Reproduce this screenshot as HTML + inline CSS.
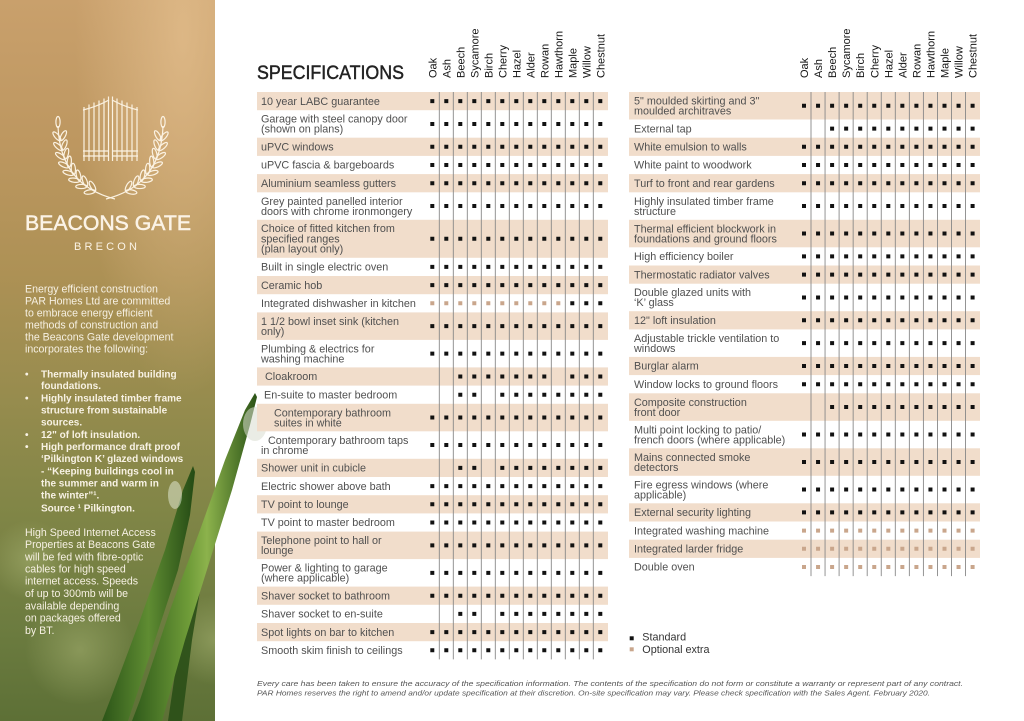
<!DOCTYPE html>
<html><head><meta charset="utf-8"><style>
html,body{margin:0;padding:0;background:#fff;}
svg{display:block;}
text{font-family:"Liberation Sans",Arial,sans-serif;}
.l{font-size:10.8px;fill:#505050;}
.h{font-size:11px;fill:#151515;}
.p{font-size:10.6px;fill:#f6f0e2;}
.b{font-size:10px;fill:#f8f2e4;font-weight:bold;}
</style></head><body>
<svg width="1024" height="721" viewBox="0 0 1024 721" xmlns="http://www.w3.org/2000/svg">
<defs>
<linearGradient id="bg" x1="0" y1="0" x2="0" y2="1">
<stop offset="0" stop-color="#c9a06c"/>
<stop offset="0.2" stop-color="#bd9760"/>
<stop offset="0.38" stop-color="#ad9155"/>
<stop offset="0.55" stop-color="#978c4e"/>
<stop offset="0.72" stop-color="#7f8546"/>
<stop offset="0.88" stop-color="#6b7b3f"/>
<stop offset="1" stop-color="#5d7036"/>
</linearGradient>
<radialGradient id="hl" cx="0.85" cy="0.05" r="0.5">
<stop offset="0" stop-color="#e2bd8c" stop-opacity="0.8"/>
<stop offset="1" stop-color="#e2bd8c" stop-opacity="0"/>
</radialGradient>
<radialGradient id="bk" cx="0.5" cy="0.5" r="0.5">
<stop offset="0" stop-color="#aab575" stop-opacity="0.5"/>
<stop offset="1" stop-color="#aab575" stop-opacity="0"/>
</radialGradient>
<linearGradient id="gA" x1="0" y1="0" x2="1" y2="0">
<stop offset="0" stop-color="#2f5a1a"/>
<stop offset="0.45" stop-color="#6e9b38"/>
<stop offset="0.6" stop-color="#8cb24c"/>
<stop offset="1" stop-color="#2a5216"/>
</linearGradient>
<linearGradient id="gB" x1="0" y1="0" x2="1" y2="0">
<stop offset="0" stop-color="#2c5518"/>
<stop offset="0.5" stop-color="#5f8c32"/>
<stop offset="1" stop-color="#244a14"/>
</linearGradient>
<clipPath id="panel"><rect x="0" y="0" width="215" height="721"/></clipPath>
<g id="lv">
<ellipse cx="-4.6" cy="-3.2" rx="5.6" ry="2.1" transform="rotate(35 -4.6 -3.2)" />
<ellipse cx="-4.6" cy="3.2" rx="5.6" ry="2.1" transform="rotate(-35 -4.6 3.2)" />
</g>
</defs>

<!-- left panel -->
<rect x="0" y="0" width="215" height="721" fill="url(#bg)"/>
<rect x="0" y="0" width="215" height="721" fill="url(#hl)"/>
<g clip-path="url(#panel)">
<circle cx="80" cy="650" r="55" fill="url(#bk)"/>
<circle cx="215" cy="640" r="45" fill="url(#bk)"/>
<circle cx="30" cy="560" r="40" fill="url(#bk)"/>
<path d="M193,466 L195,472 L190,515 L178,570 L155,640 L128,721 L102,721 L112,695 L140,620 L165,550 L183,490 Z" fill="url(#gB)"/>
<path d="M215,500 L205,560 L192,640 L182,721 L168,721 L180,640 L196,560 Z" fill="#2a4f17" opacity="0.9"/>
<ellipse cx="175" cy="495" rx="7" ry="14" fill="#e8efdc" opacity="0.5"/>
</g>
<path d="M255,393 L257,397 L250,425 L232,490 L210,560 L185,640 L162,721 L132,721 L140,700 L170,610 L200,530 L225,460 L245,410 Z" fill="url(#gA)"/>
<ellipse cx="255" cy="424" rx="12" ry="17" fill="#d9ddcf" opacity="0.55"/>

<!-- logo -->
<g stroke="#fbf2e2" stroke-width="1.2" fill="none">
<path d="M84,107V161M89,104.5V161M94,102.5V161M99,100.5V161M104,98.5V161M108.5,96.5V161"/>
<path d="M137,107V161M132,104.5V161M127,102.5V161M122,100.5V161M117,98.5V161M112.5,96.5V161"/>
<path d="M83,110 Q96,107 109,100 M83,151H109 M83,156H109"/>
<path d="M138,110 Q125,107 112,100 M138,151H112 M138,156H112"/>
<g id="branch">
<path d="M58,126 Q60,185 115,199"/>
<ellipse cx="58" cy="122" rx="2.1" ry="5.5"/>
<use href="#lv" transform="translate(60.55,140.6) rotate(84)"/>
<use href="#lv" transform="translate(62.2,150.3) rotate(77)"/>
<use href="#lv" transform="translate(64.95,159.2) rotate(69)"/>
<use href="#lv" transform="translate(68.8,167.3) rotate(60)"/>
<use href="#lv" transform="translate(73.75,174.5) rotate(51)"/>
<use href="#lv" transform="translate(79.8,180.9) rotate(42)"/>
<use href="#lv" transform="translate(86.95,186.4) rotate(34)"/>
<use href="#lv" transform="translate(95.2,191.1) rotate(26)"/>
</g>
<use href="#branch" transform="translate(221,0) scale(-1,1)"/>
</g>
<text x="25" y="230" font-size="21" fill="#fbf3e6" stroke="#fbf3e6" stroke-width="0.5" textLength="166" lengthAdjust="spacingAndGlyphs">BEACONS GATE</text>
<text x="74" y="250" font-size="11" fill="#fbf3e6" textLength="63" lengthAdjust="spacing">BRECON</text>

<text class="p" x="25" y="292.5">Energy efficient construction</text>
<text class="p" x="25" y="304.5">PAR Homes Ltd are committed</text>
<text class="p" x="25" y="316.5">to embrace energy efficient</text>
<text class="p" x="25" y="328.5">methods of construction and</text>
<text class="p" x="25" y="340.5">the Beacons Gate development</text>
<text class="p" x="25" y="352.5">incorporates the following:</text>
<text class="b" x="25" y="377.6">•</text><text class="b" x="41" y="377.6">Thermally insulated building</text>
<text class="b" x="41" y="389">foundations.</text>
<text class="b" x="25" y="401.3">•</text><text class="b" x="41" y="401.3">Highly insulated timber frame</text>
<text class="b" x="41" y="413.3">structure from sustainable</text>
<text class="b" x="41" y="425.6">sources.</text>
<text class="b" x="25" y="438">•</text><text class="b" x="41" y="438">12" of loft insulation.</text>
<text class="b" x="25" y="450">•</text><text class="b" x="41" y="450">High performance draft proof</text>
<text class="b" x="41" y="462">‘Pilkington K’ glazed windows</text>
<text class="b" x="41" y="474.3">- “Keeping buildings cool in</text>
<text class="b" x="41" y="486.6">the summer and warm in</text>
<text class="b" x="41" y="498.6">the winter”¹.</text>
<text class="b" x="41" y="511.3">Source ¹ Pilkington.</text>
<text class="p" x="25" y="535.8">High Speed Internet Access</text>
<text class="p" x="25" y="548.2">Properties at Beacons Gate</text>
<text class="p" x="25" y="560.5">will be fed with fibre-optic</text>
<text class="p" x="25" y="572.5">cables for high speed</text>
<text class="p" x="25" y="584.5">internet access. Speeds</text>
<text class="p" x="25" y="597.2">of up to 300mb will be</text>
<text class="p" x="25" y="609.5">available depending</text>
<text class="p" x="25" y="621.5">on packages offered</text>
<text class="p" x="25" y="633.8">by BT.</text>

<!-- title -->
<text x="257" y="79" font-size="19" fill="#222" stroke="#222" stroke-width="0.45" textLength="147" lengthAdjust="spacingAndGlyphs">SPECIFICATIONS</text>

<!-- left bands -->
<g fill="#f1ddcb">
<rect x="257" y="92" width="351" height="18.2"/>
<rect x="257" y="137.7" width="351" height="18.2"/>
<rect x="257" y="174.1" width="351" height="18.2"/>
<rect x="257" y="219.8" width="351" height="38"/>
<rect x="257" y="276" width="351" height="18.2"/>
<rect x="257" y="312.4" width="351" height="27.5"/>
<rect x="257" y="367.4" width="351" height="18.2"/>
<rect x="257" y="403.8" width="351" height="27.5"/>
<rect x="257" y="458.8" width="351" height="18.2"/>
<rect x="257" y="495.2" width="351" height="18.2"/>
<rect x="257" y="531.6" width="351" height="27.5"/>
<rect x="257" y="586.6" width="351" height="18.2"/>
<rect x="257" y="623" width="351" height="18.2"/>
<!-- right bands -->
<rect x="629" y="92" width="351" height="27.5"/>
<rect x="629" y="137.7" width="351" height="18.2"/>
<rect x="629" y="174.1" width="351" height="18.2"/>
<rect x="629" y="219.8" width="351" height="27.5"/>
<rect x="629" y="265.5" width="351" height="18.2"/>
<rect x="629" y="311.2" width="351" height="18.2"/>
<rect x="629" y="356.9" width="351" height="18.2"/>
<rect x="629" y="393.3" width="351" height="27.5"/>
<rect x="629" y="448.3" width="351" height="27.5"/>
<rect x="629" y="503.3" width="351" height="18.2"/>
<rect x="629" y="539.7" width="351" height="18.2"/>
</g>

<!-- vertical lines -->
<g stroke="#888" stroke-width="0.9">
<path d="M439.3,92V659.4M453.3,92V659.4M467.3,92V659.4M481.3,92V659.4M495.3,92V659.4M509.3,92V659.4M523.3,92V659.4M537.3,92V659.4M551.3,92V659.4M565.3,92V659.4M579.3,92V659.4M593.3,92V659.4"/>
<path d="M811,92V576.1M825.05,92V576.1M839.1,92V576.1M853.15,92V576.1M867.2,92V576.1M881.25,92V576.1M895.3,92V576.1M909.35,92V576.1M923.4,92V576.1M937.45,92V576.1M951.5,92V576.1M965.55,92V576.1"/>
</g>

<!-- column headers -->
<g class="h">
<text class="h" transform="translate(436.3,78) rotate(-90)">Oak</text>
<text class="h" transform="translate(450.3,78) rotate(-90)">Ash</text>
<text class="h" transform="translate(464.3,78) rotate(-90)">Beech</text>
<text class="h" transform="translate(478.3,78) rotate(-90)">Sycamore</text>
<text class="h" transform="translate(492.3,78) rotate(-90)">Birch</text>
<text class="h" transform="translate(506.3,78) rotate(-90)">Cherry</text>
<text class="h" transform="translate(520.3,78) rotate(-90)">Hazel</text>
<text class="h" transform="translate(534.3,78) rotate(-90)">Alder</text>
<text class="h" transform="translate(548.3,78) rotate(-90)">Rowan</text>
<text class="h" transform="translate(562.3,78) rotate(-90)">Hawthorn</text>
<text class="h" transform="translate(576.3,78) rotate(-90)">Maple</text>
<text class="h" transform="translate(590.3,78) rotate(-90)">Willow</text>
<text class="h" transform="translate(604.3,78) rotate(-90)">Chestnut</text>
<text class="h" transform="translate(808,78) rotate(-90)">Oak</text>
<text class="h" transform="translate(822.05,78) rotate(-90)">Ash</text>
<text class="h" transform="translate(836.1,78) rotate(-90)">Beech</text>
<text class="h" transform="translate(850.15,78) rotate(-90)">Sycamore</text>
<text class="h" transform="translate(864.2,78) rotate(-90)">Birch</text>
<text class="h" transform="translate(878.25,78) rotate(-90)">Cherry</text>
<text class="h" transform="translate(892.3,78) rotate(-90)">Hazel</text>
<text class="h" transform="translate(906.35,78) rotate(-90)">Alder</text>
<text class="h" transform="translate(920.4,78) rotate(-90)">Rowan</text>
<text class="h" transform="translate(934.45,78) rotate(-90)">Hawthorn</text>
<text class="h" transform="translate(948.5,78) rotate(-90)">Maple</text>
<text class="h" transform="translate(962.55,78) rotate(-90)">Willow</text>
<text class="h" transform="translate(976.6,78) rotate(-90)">Chestnut</text>
</g>

<!-- left labels -->
<text class="l" x="261" y="104.8">10 year LABC guarantee</text>
<text class="l" x="261" y="122.65">Garage with steel canopy door</text>
<text class="l" x="261" y="132.65">(shown on plans)</text>
<text class="l" x="261" y="150.5">uPVC windows</text>
<text class="l" x="261" y="168.7">uPVC fascia &amp; bargeboards</text>
<text class="l" x="261" y="186.9">Aluminium seamless gutters</text>
<text class="l" x="261" y="204.75">Grey painted panelled interior</text>
<text class="l" x="261" y="214.75">doors with chrome ironmongery</text>
<text class="l" x="261" y="232">Choice of fitted kitchen from</text>
<text class="l" x="261" y="242.5">specified ranges</text>
<text class="l" x="261" y="252.5">(plan layout only)</text>
<text class="l" x="261" y="270.6">Built in single electric oven</text>
<text class="l" x="261" y="288.8">Ceramic hob</text>
<text class="l" x="261" y="307">Integrated dishwasher in kitchen</text>
<text class="l" x="261" y="324.85">1 1/2 bowl inset sink (kitchen</text>
<text class="l" x="261" y="334.85">only)</text>
<text class="l" x="261" y="352.35">Plumbing &amp; electrics for</text>
<text class="l" x="261" y="362.35">washing machine</text>
<text class="l" x="265" y="380.2">Cloakroom</text>
<text class="l" x="264" y="398.4">En-suite to master bedroom</text>
<text class="l" x="274" y="416.25">Contemporary bathroom</text>
<text class="l" x="274" y="426.25">suites in white</text>
<text class="l" x="268" y="443.75">Contemporary bathroom taps</text>
<text class="l" x="261" y="453.75">in chrome</text>
<text class="l" x="261" y="471.6">Shower unit in cubicle</text>
<text class="l" x="261" y="489.8">Electric shower above bath</text>
<text class="l" x="261" y="508">TV point to lounge</text>
<text class="l" x="261" y="526.2">TV point to master bedroom</text>
<text class="l" x="261" y="544.05">Telephone point to hall or</text>
<text class="l" x="261" y="554.05">lounge</text>
<text class="l" x="261" y="571.55">Power &amp; lighting to garage</text>
<text class="l" x="261" y="581.55">(where applicable)</text>
<text class="l" x="261" y="599.4">Shaver socket to bathroom</text>
<text class="l" x="261" y="617.6">Shaver socket to en-suite</text>
<text class="l" x="261" y="635.8">Spot lights on bar to kitchen</text>
<text class="l" x="261" y="654">Smooth skim finish to ceilings</text>

<!-- right labels -->
<text class="l" x="634" y="104.45">5" moulded skirting and 3"</text>
<text class="l" x="634" y="114.45">moulded architraves</text>
<text class="l" x="634" y="132.3">External tap</text>
<text class="l" x="634" y="150.5">White emulsion to walls</text>
<text class="l" x="634" y="168.7">White paint to woodwork</text>
<text class="l" x="634" y="186.9">Turf to front and rear gardens</text>
<text class="l" x="634" y="204.75">Highly insulated timber frame</text>
<text class="l" x="634" y="214.75">structure</text>
<text class="l" x="634" y="232.25">Thermal efficient blockwork in</text>
<text class="l" x="634" y="242.25">foundations and ground floors</text>
<text class="l" x="634" y="260.1">High efficiency boiler</text>
<text class="l" x="634" y="278.3">Thermostatic radiator valves</text>
<text class="l" x="634" y="296.15">Double glazed units with</text>
<text class="l" x="634" y="306.15">‘K’ glass</text>
<text class="l" x="634" y="324">12" loft insulation</text>
<text class="l" x="634" y="341.85">Adjustable trickle ventilation to</text>
<text class="l" x="634" y="351.85">windows</text>
<text class="l" x="634" y="369.7">Burglar alarm</text>
<text class="l" x="634" y="387.9">Window locks to ground floors</text>
<text class="l" x="634" y="405.75">Composite construction</text>
<text class="l" x="634" y="415.75">front door</text>
<text class="l" x="634" y="433.25">Multi point locking to patio/</text>
<text class="l" x="634" y="443.25">french doors (where applicable)</text>
<text class="l" x="634" y="460.75">Mains connected smoke</text>
<text class="l" x="634" y="470.75">detectors</text>
<text class="l" x="634" y="488.25">Fire egress windows (where</text>
<text class="l" x="634" y="498.25">applicable)</text>
<text class="l" x="634" y="516.1">External security lighting</text>
<text class="l" x="634" y="534.3">Integrated washing machine</text>
<text class="l" x="634" y="552.5">Integrated larder fridge</text>
<text class="l" x="634" y="570.7">Double oven</text>

<!-- left dots -->
<g stroke="#111" stroke-width="4" stroke-dasharray="4 10" fill="none">
<path d="M430.3,101.1H602.3M430.3,123.95H602.3M430.3,146.8H602.3M430.3,165H602.3M430.3,183.2H602.3M430.3,206.05H602.3M430.3,238.8H602.3M430.3,266.9H602.3M430.3,285.1H602.3M570.3,303.3H602.3M430.3,326.15H602.3M430.3,353.65H602.3"/>
<path d="M458.3,376.5H546.3M570.3,376.5H602.3"/>
<path d="M458.3,394.7H476.3M500.3,394.7H602.3"/>
<path d="M430.3,417.55H602.3M430.3,445.05H602.3"/>
<path d="M458.3,467.9H476.3M500.3,467.9H602.3"/>
<path d="M430.3,486.1H602.3M430.3,504.3H602.3M430.3,522.5H602.3M430.3,545.35H602.3M430.3,572.85H602.3M430.3,595.7H602.3"/>
<path d="M458.3,613.9H476.3M500.3,613.9H602.3"/>
<path d="M430.3,632.1H602.3M430.3,650.3H602.3"/>
</g>
<g stroke="#c9a68c" stroke-width="4" stroke-dasharray="4 10" fill="none">
<path d="M430.3,303.3H560.3"/>
</g>

<!-- right dots -->
<g stroke="#111" stroke-width="4" stroke-dasharray="4 10.05" fill="none">
<path d="M802,105.75H974.6M830.1,128.6H974.6M802,146.8H974.6M802,165H974.6M802,183.2H974.6M802,206.05H974.6M802,233.55H974.6M802,256.4H974.6M802,274.6H974.6M802,297.45H974.6M802,320.3H974.6M802,343.15H974.6M802,366H974.6M802,384.2H974.6M830.1,407.05H974.6M802,434.55H974.6M802,462.05H974.6M802,489.55H974.6M802,512.4H974.6"/>
</g>
<g stroke="#c9a68c" stroke-width="4" stroke-dasharray="4 10.05" fill="none">
<path d="M802,530.6H974.6M802,548.8H974.6M802,567H974.6"/>
</g>

<!-- legend -->
<rect x="629.7" y="636.3" width="4" height="4" fill="#111"/>
<text class="l" x="642.3" y="640.4" style="fill:#333">Standard</text>
<rect x="629.7" y="647.3" width="4" height="4" fill="#c9a68c"/>
<text class="l" x="642.3" y="653" style="fill:#333">Optional extra</text>

<!-- footer -->
<text x="257" y="686" font-size="7.6" font-style="italic" fill="#555" textLength="706" lengthAdjust="spacingAndGlyphs">Every care has been taken to ensure the accuracy of the specification information. The contents of the specification do not form or constitute a warranty or represent part of any contract.</text>
<text x="257" y="695.5" font-size="7.6" font-style="italic" fill="#555" textLength="673" lengthAdjust="spacingAndGlyphs">PAR Homes reserves the right to amend and/or update specification at their discretion. On-site specification may vary. Please check specification with the Sales Agent. February 2020.</text>
</svg>
</body></html>
